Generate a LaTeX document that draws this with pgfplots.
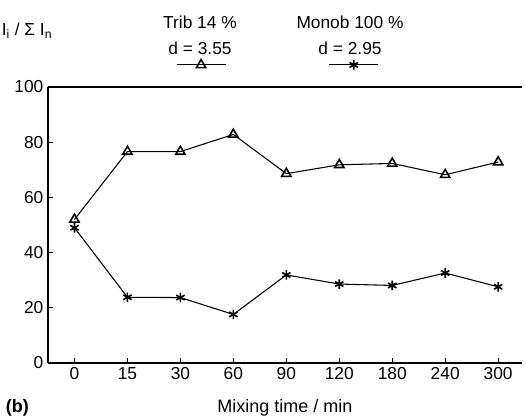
\documentclass[border=0pt]{standalone}
\usepackage{fontspec}
\setmainfont{Liberation Sans}
\usepackage{pgfplots}
\pgfplotsset{compat=1.18}
\begin{document}
\begin{tikzpicture}
\useasboundingbox (0pt,0pt) rectangle (394.5pt,312pt);
\begin{axis}[
  at={(36pt,39.75pt)}, anchor=south west,
  scale only axis, width=355.5pt, height=207pt,
  xmin=-0.5, xmax=8.45, ymin=0, ymax=100,
  axis x line=box, axis y line=left,
  axis line style={-, line width=1.1pt},
  xtick={0,...,8}, xticklabels={0,15,30,60,90,120,180,240,300},
  ytick={0,20,...,100},
  xtick pos=left, ytick pos=left,
  tick align=inside, major tick length=4pt,
  tick style={line width=0.9pt, black},
  ticklabel style={font=\fontsize{13}{15}\selectfont},
  /pgf/number format/assume math mode=true,
  legend style={draw=none, fill=none, inner sep=0pt, outer sep=0pt,
    at={(axis description cs:0.27,1.08)}, anchor=west,
    nodes={inner sep=0pt},
    legend columns=2,
    /tikz/every even column/.append style={column sep=76pt}},
  legend image code/.code={\draw[mark repeat=2,mark phase=2] plot coordinates {(0pt,0pt) (18.4pt,0pt) (36.75pt,0pt)};},
]
\addplot[black, line width=0.8pt, mark=triangle, mark size=4pt, mark options={line width=1.2pt, solid}]
  coordinates {(0,52) (1,76.6) (2,76.6) (3,82.8) (4,68.6) (5,71.8) (6,72.3) (7,68.2) (8,72.8)};
\addlegendentry{\strut}
\addplot[black, line width=0.8pt, mark=asterisk, mark size=3.6pt, mark options={line width=1.2pt, solid}]
  coordinates {(0,49) (1,23.8) (2,23.7) (3,17.6) (4,31.9) (5,28.6) (6,28.1) (7,32.6) (8,27.6)};
\addlegendentry{\strut}
\end{axis}
\node[font=\fontsize{13}{15}\selectfont] at (150pt,295.5pt) {Trib 14 \%};
\node[font=\fontsize{13}{15}\selectfont] at (150pt,276pt) {d = 3.55};
\node[font=\fontsize{13}{15}\selectfont] at (262.5pt,295.5pt) {Monob 100 \%};
\node[font=\fontsize{13}{15}\selectfont] at (262.5pt,276pt) {d = 2.95};
\node[font=\fontsize{13}{15}\selectfont] at (20.25pt,288.75pt) {I\textsubscript{i} / Σ I\textsubscript{n}};
\node[font=\fontsize{13.5}{15}\selectfont\bfseries] at (13pt,6pt) {(b)};
\node[font=\fontsize{13.5}{15}\selectfont] at (213.75pt,6pt) {Mixing time / min};
\end{tikzpicture}
\end{document}
